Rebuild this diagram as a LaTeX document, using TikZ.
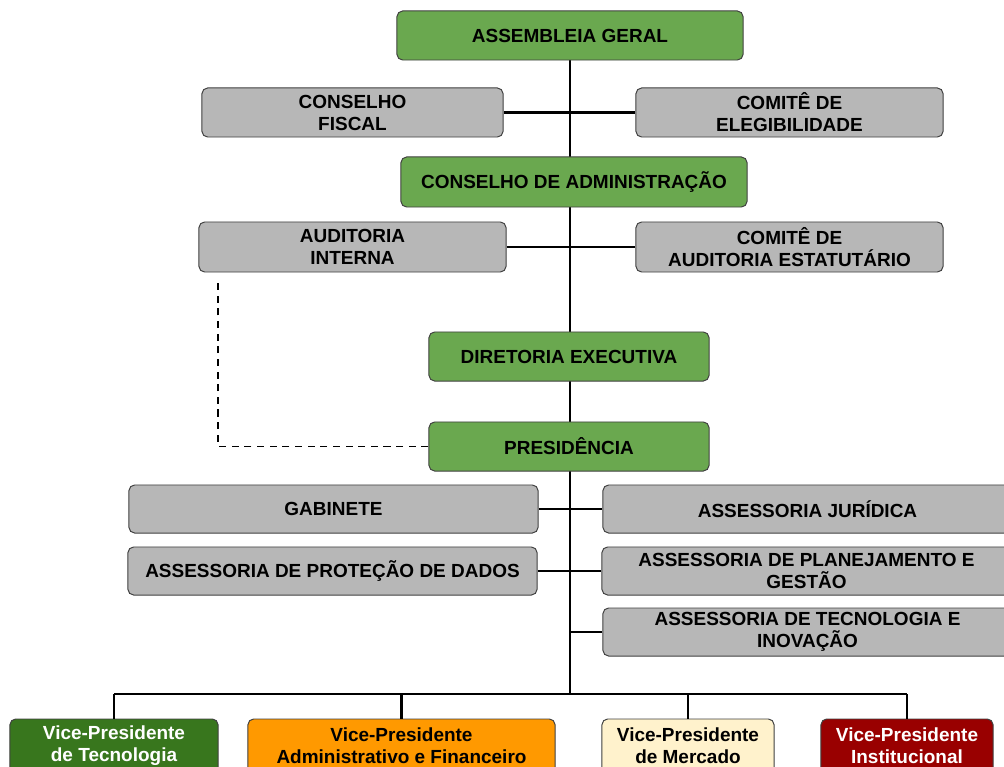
\documentclass[tikz,border=0pt]{standalone}
\usepackage{fontspec}
\setmainfont{Liberation Sans}
\usetikzlibrary{backgrounds}
\definecolor{verde}{HTML}{6AA84F}
\definecolor{cinza}{HTML}{B7B7B7}
\definecolor{verdeesc}{HTML}{38761D}
\definecolor{laranja}{HTML}{FF9900}
\definecolor{creme}{HTML}{FFF2CC}
\definecolor{vinho}{HTML}{990000}
\tikzset{
	caixa/.style={draw=black!75, line width=0.7pt, rounded corners=4pt, align=center, inner sep=0pt,
		font=\fontsize{13.5}{15.6}\selectfont\bfseries},
	verdebox/.style={caixa, fill=verde, minimum height=1.225cm},
	cinzabox/.style={caixa, fill=cinza, minimum height=1.225cm},
	vpbox/.style={caixa, minimum height=1.35cm},
	liga/.style={line width=2pt},
	tracejado/.style={line width=1.2pt, dash pattern=on 5pt off 4pt}
}
\begin{document}
\begin{tikzpicture}[x=0.025cm, y=-0.025cm]
	\useasboundingbox (0,0) rectangle (1004,767);
	\clip (0,0) rectangle (1004,767);
		\node[verdebox, minimum width=8.65cm] (AG) at (570,35.5) {ASSEMBLEIA GERAL};
		\node[cinzabox, minimum width=7.525cm] (CF) at (352.5,112.5) {CONSELHO\\FISCAL};
		\node[cinzabox, minimum width=7.675cm] (CE) at (789.5,112.5) {COMITÊ DE\\ELEGIBILIDADE};
		\node[verdebox, minimum width=8.65cm, minimum height=1.25cm] (CA) at (574,182) {CONSELHO DE ADMINISTRAÇÃO};
		\node[cinzabox, minimum width=7.675cm, minimum height=1.25cm] (AI) at (352.5,247) {AUDITORIA\\INTERNA};
		\node[cinzabox, minimum width=7.675cm, minimum height=1.25cm] (CAE) at (789.5,247) {COMITÊ DE\\AUDITORIA ESTATUTÁRIO};
		\node[verdebox, minimum width=7cm] (DE) at (569,356.5) {DIRETORIA EXECUTIVA};
		\node[verdebox, minimum width=7cm] (PR) at (569,446.5) {PRESIDÊNCIA};
		\node[cinzabox, minimum width=10.225cm, minimum height=1.2cm] (GAB) at (333.5,509) {GABINETE};
		\node[cinzabox, minimum width=10.225cm, minimum height=1.2cm] (AJ) at (807.5,509) {ASSESSORIA JURÍDICA};
		\node[cinzabox, minimum width=10.225cm, minimum height=1.2cm] (APD) at (332.5,571) {ASSESSORIA DE PROTEÇÃO DE DADOS};
		\node[cinzabox, minimum width=10.225cm, minimum height=1.2cm] (APG) at (806.5,571) {ASSESSORIA DE PLANEJAMENTO E\\GESTÃO};
		\node[cinzabox, minimum width=10.225cm, minimum height=1.2cm] (ATI) at (807.5,632) {ASSESSORIA DE TECNOLOGIA E\\INOVAÇÃO};
		\node[vpbox, fill=verdeesc, text=white, minimum width=5.2cm] (VPT) at (114,746) {Vice-Presidente\\de Tecnologia};
		\node[vpbox, fill=laranja, minimum width=7.675cm] (VPA) at (401.5,746) {Vice-Presidente\\Administrativo e Financeiro};
		\node[vpbox, fill=creme, minimum width=4.3cm] (VPM) at (688,746) {Vice-Presidente\\de Mercado};
		\node[vpbox, fill=vinho, text=white, minimum width=4.3cm] (VPI) at (907,746) {Vice-Presidente\\Institucional};
		\coordinate (barra) at (570,694);
		\coordinate (tr) at (218,280);
		\begin{scope}[on background layer]
			\draw[liga] (AG) -- (AG |- barra);
			\draw[liga] (CF.east) -- (CE.west);
			\draw[liga] (AI.east) -- (CAE.west);
			\draw[liga] (GAB.east) -- (AJ.west);
			\draw[liga] (APD.east) -- (APG.west);
			\draw[liga] (ATI.west) -- (ATI.west -| AG);
		\end{scope}
		\draw[liga] (VPT.north |- barra) -- (VPI.north |- barra);
		\foreach \v in {VPT,VPA,VPM,VPI}
			\draw[liga] (\v.north) -- (\v.north |- barra);
		\draw[tracejado] (PR.west) -| (tr);
\end{tikzpicture}
\end{document}
